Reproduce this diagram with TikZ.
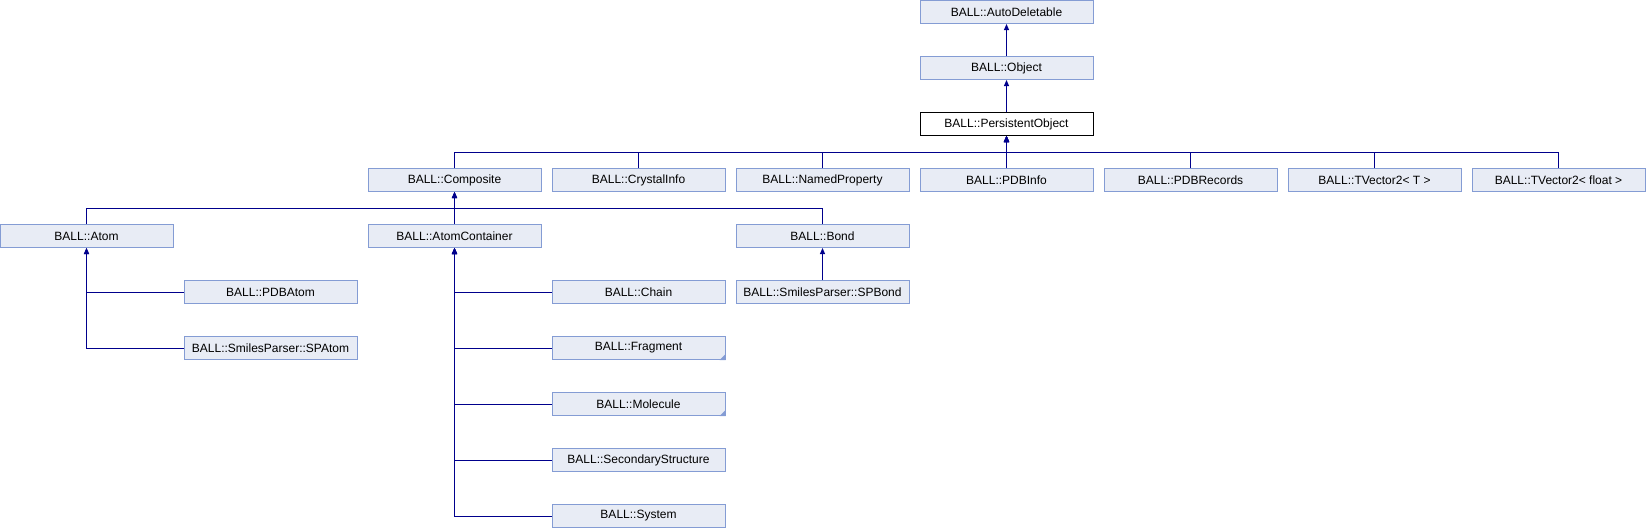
\documentclass[tikz,border=0pt]{standalone}
\usepackage{fontspec}
\setmainfont{Liberation Sans}
\usetikzlibrary{arrows.meta}
\definecolor{boxfill}{RGB}{232,236,245}
\definecolor{boxdraw}{RGB}{132,156,212}
\definecolor{edgecol}{RGB}{0,0,140}
\tikzset{
  cls/.style={draw=boxdraw, fill=boxfill, line width=1pt, minimum width=173pt, minimum height=23pt, inner sep=0pt, font=\fontsize{12}{14}\selectfont},
  curcls/.style={cls, draw=black, fill=white},
  inh/.style={draw=edgecol, line width=1pt, -{Triangle[length=6pt,width=5pt]}},
  trunc/.style={fill=boxdraw}
}
\begin{document}
\begin{tikzpicture}[x=1pt,y=-1pt]
\useasboundingbox (0,0) rectangle (1646,528);
% row 0-2
\node[cls] (autodel) at (1006.5,12) {BALL::AutoDeletable};
\node[cls] (object) at (1006.5,68) {BALL::Object};
\node[curcls] (po) at (1006.5,124) {BALL::PersistentObject};
% row 3
\node[cls] (composite) at (454.5,180) {BALL::Composite};
\node[cls] (crystal) at (638.5,180) {BALL::CrystalInfo};
\node[cls] (named) at (822.5,180) {BALL::NamedProperty};
\node[cls] (pdbinfo) at (1006.5,180) {BALL::PDBInfo};
\node[cls] (pdbrec) at (1190.5,180) {BALL::PDBRecords};
\node[cls] (tvt) at (1374.5,180) {BALL::TVector2< T >};
\node[cls] (tvf) at (1558.5,180) {BALL::TVector2< float >};
% row 4
\node[cls] (atom) at (86.5,236) {BALL::Atom};
\node[cls] (ac) at (454.5,236) {BALL::AtomContainer};
\node[cls] (bond) at (822.5,236) {BALL::Bond};
% row 5+
\node[cls] (pdbatom) at (270.5,292) {BALL::PDBAtom};
\node[cls] (spatom) at (270.5,348) {BALL::SmilesParser::SPAtom};
\node[cls] (chain) at (638.5,292) {BALL::Chain};
\node[cls] (fragment) at (638.5,348) {BALL::Fragment};
\node[cls] (molecule) at (638.5,404) {BALL::Molecule};
\node[cls] (secstruct) at (638.5,460) {BALL::SecondaryStructure};
\node[cls] (system) at (638.5,516) {BALL::System};
\node[cls] (spbond) at (822.5,292) {BALL::SmilesParser::SPBond};
% truncation markers
\fill[trunc] (fragment.south east) -- ++(-6,0) -- ++(6,-6) -- cycle;
\fill[trunc] (molecule.south east) -- ++(-6,0) -- ++(6,-6) -- cycle;
% edges
\draw[inh] (object.north) -- (autodel.south);
\draw[inh] (po.north) -- (object.south);
\foreach \c in {composite,crystal,named,pdbinfo,pdbrec,tvt,tvf}
  \draw[inh] (\c.north) -- ++(0,-16) -| (po.south);
\foreach \c in {atom,ac,bond}
  \draw[inh] (\c.north) -- ++(0,-16) -| (composite.south);
\foreach \c in {pdbatom,spatom}
  \draw[inh] (\c.west) -| (atom.south);
\foreach \c in {chain,fragment,molecule,secstruct,system}
  \draw[inh] (\c.west) -| (ac.south);
\draw[inh] (spbond.north) -- (bond.south);
\end{tikzpicture}
\end{document}
